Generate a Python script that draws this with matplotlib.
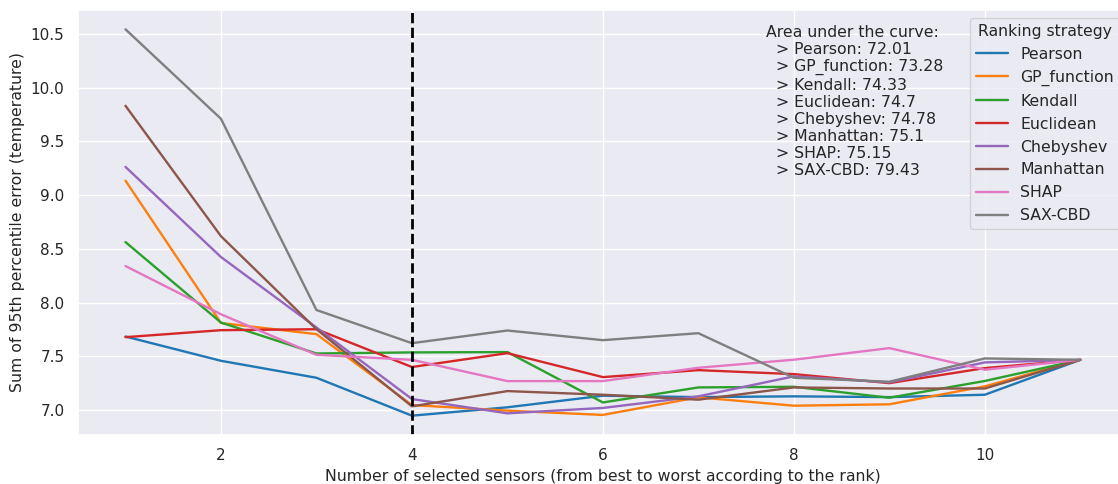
import numpy as np
import matplotlib
matplotlib.use("Agg")
import matplotlib.pyplot as plt
import seaborn as sns

n_sensors = list(range(1, 12))

pearson = [7.684, 7.458, 7.30, 6.947, 7.025, 7.133, 7.12, 7.127, 7.12, 7.142, 7.467]
gp_function = [9.135, 7.81, 7.706, 7.046, 6.994, 6.954, 7.118, 7.04, 7.053, 7.22, 7.467]
kendall = [8.563, 7.814, 7.526, 7.536, 7.539, 7.07, 7.21, 7.216, 7.114, 7.27, 7.467]
euclidean = [7.678, 7.743, 7.752, 7.40, 7.529, 7.306, 7.371, 7.334, 7.25, 7.39, 7.467]
chebyshev = [9.263, 8.424, 7.768, 7.102, 6.969, 7.019, 7.127, 7.313, 7.257, 7.443, 7.467]
manhattan = [9.832, 8.618, 7.752, 7.034, 7.176, 7.142, 7.096, 7.21, 7.20, 7.20, 7.467]
shap = [8.34, 7.891, 7.514, 7.467, 7.269, 7.269, 7.393, 7.468, 7.576, 7.375, 7.467]
sax_cbd = [10.544, 9.711, 7.931, 7.622, 7.74, 7.65, 7.715, 7.30, 7.263, 7.48, 7.467]

strategies = ["Pearson", "GP_function", "Kendall", "Euclidean",
              "Chebyshev", "Manhattan", "SHAP", "SAX-CBD"]
series = [pearson, gp_function, kendall, euclidean,
          chebyshev, manhattan, shap, sax_cbd]
auc = [72.01, 73.28, 74.33, 74.7, 74.78, 75.1, 75.15, 79.43]

chosen_k = 4

sns.set_theme(style="darkgrid", palette="tab10")

fig = plt.figure(figsize=(11.18, 4.84), dpi=100)
ax = fig.add_axes([77.75 / 1118, 49 / 484, (1128 - 77.75) / 1118, 425 / 484])

for name, vals in zip(strategies, series):
    ax.plot(n_sensors, vals, label=name, linewidth=1.7)

ax.axvline(chosen_k, color="black", linestyle="--", linewidth=2)

auc_text = "Area under the curve:\n" + "\n".join(
    f"  > {name}: {a}" for name, a in zip(strategies, auc)
)
ax.text(0.6553, 0.965, auc_text, transform=ax.transAxes,
        va="top", ha="left", fontsize=11.3, linespacing=1.18)

ax.legend(title="Ranking strategy", loc="upper right",
          fontsize=11.3, title_fontsize=11.3)

ax.tick_params(labelsize=11)
ax.set_xlabel("Number of selected sensors (from best to worst according to the rank)",
              fontsize=11.3)
ax.set_ylabel("Sum of 95th percentile error (temperature)", fontsize=11.3)

fig.savefig("out.png", dpi=100)
